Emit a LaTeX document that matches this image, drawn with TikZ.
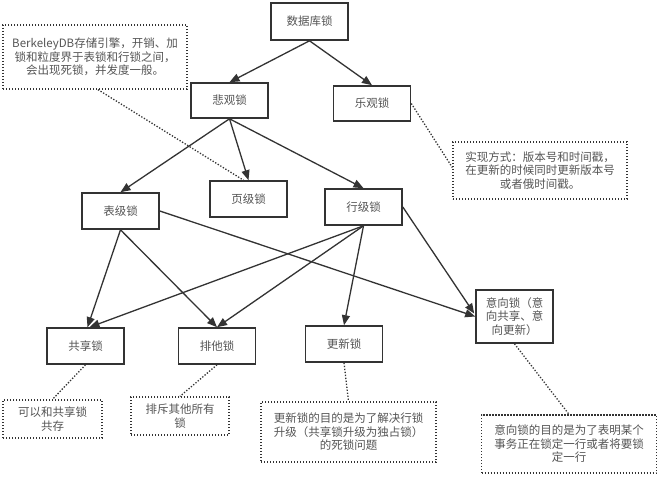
\documentclass[tikz,border=0pt]{standalone}
\usepackage{fontspec}
\newfontfamily\cjk{Noto Sans CJK SC}
\usetikzlibrary{arrows.meta,calc}
\definecolor{boxc}{HTML}{333333}
\definecolor{txtc}{HTML}{555555}
\definecolor{linec}{HTML}{333333}
\begin{document}
\begin{tikzpicture}[x=1pt,y=-1pt,
  lbl/.style={text=txtc, font=\cjk\fontsize{11.5}{13.5}\selectfont, align=center, inner sep=0pt},
  box/.style={lbl, draw=boxc, line width=1.6pt, minimum width=77pt, minimum height=36pt},
  note/.style={lbl, draw=boxc, line width=1.3pt, dash pattern=on 1.3pt off 1.7pt},
  arr/.style={draw=linec, line width=1.3pt, -{Triangle[length=10pt,width=8pt]}},
  dots/.style={draw=linec, line width=1.3pt, dash pattern=on 1.3pt off 1.7pt}]
\useasboundingbox (0,0) rectangle (658,479);
\fill[white] (0,0) rectangle (658,479);
% boxes
\node[box, minimum height=37pt] (db) at (309.5,21.5) {数据库锁};
\node[box, minimum height=35pt] (pess) at (229.5,100.5) {悲观锁};
\node[box, minimum height=35pt] (opt) at (372,103.5) {乐观锁};
\node[box] (page) at (248.5,199) {页级锁};
\node[box] (table) at (120.5,211) {表级锁};
\node[box] (row) at (363.5,207) {行级锁};
\node[box, minimum height=53pt] (intent) at (514.5,316.5) {意向锁（意\\向共享、意\\向更新）};
\node[box] (share) at (85.5,346) {共享锁};
\node[box] (excl) at (217,346) {排他锁};
\node[box] (upd) at (344,344) {更新锁};
% notes
\node[note, minimum width=184pt, minimum height=64pt] (bdb) at (95,57) {BerkeleyDB存储引擎，开销、加\\锁和粒度界于表锁和行锁之间，\\会出现死锁，并发度一般。};
\node[note, minimum width=174pt, minimum height=57pt] (impl) at (540,170.5) {实现方式：版本号和时间戳，\\在更新的时候同时更新版本号\\或者俄时间戳。};
\node[note, minimum width=99pt, minimum height=38pt] (n1) at (52.5,419) {可以和共享锁\\共存};
\node[note, minimum width=98pt, minimum height=38pt] (n2) at (180,416) {排斥其他所有\\锁};
\node[note, minimum width=175pt, minimum height=60pt] (n3) at (348.5,432) {更新锁的目的是为了解决行锁\\升级（共享锁升级为独占锁）\\的死锁问题};
\node[note, minimum width=175pt, minimum height=58pt] (n4) at (569,444) {意向锁的目的是为了表明某个\\事务正在锁定一行或者将要锁\\定一行};
% arrows
\draw[arr] (db.south) -- (pess.north);
\draw[arr] (db.south) -- (opt.north);
\draw[arr] (pess.south) -- (table.north);
\draw[arr] (pess.south) -- (page.north);
\draw[arr] (pess.south) -- (row.north);
\draw[arr] (table.south) -- ($(share.north)+(2,0)$);
\draw[arr] (table.south) -- (excl.north);
\draw[arr] (table.east) -- (intent.west);
\draw[arr] (row.south) -- ($(share.north)+(4,0)$);
\draw[arr] (row.south) -- (excl.north);
\draw[arr] (row.south) -- (upd.north);
\draw[arr] (row.east) -- ($(intent.west)+(-1,-3)$);
% dotted connectors
\draw[dots] ($(bdb.south)+(3,0)$) -- ($(page.north)+(-5,0)$);
\draw[dots] (opt.east) -- ($(impl.west)+(0,-3)$);
\draw[dots] (share.south) -- (n1.north);
\draw[dots] (excl.south) -- (n2.north);
\draw[dots] (upd.south) -- (n3.north);
\draw[dots] (intent.south) -- (n4.north);
\end{tikzpicture}
\end{document}
